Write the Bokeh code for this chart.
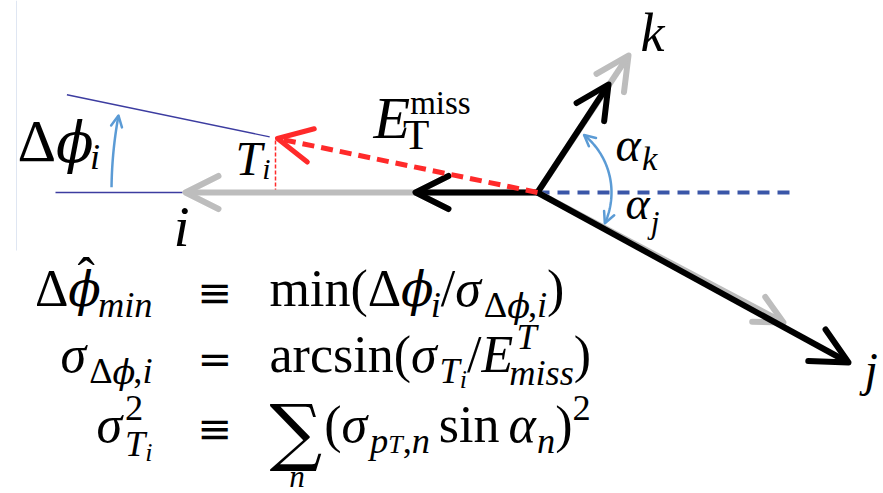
import numpy as np
from bokeh.plotting import figure
from bokeh.models import Range1d, Arrow, OpenHead, ColumnDataSource
from bokeh.embed import file_html
from bokeh.resources import INLINE

# ---------------------------------------------------------------------------
# Event geometry in the transverse plane, pixel units relative to the vertex
# (x to the right, y upwards).
# ---------------------------------------------------------------------------
jet_names = ["i", "j", "k"]
jet_meas_dx = [-122, 311, 71]      # measured jet momenta (black)
jet_meas_dy = [0, -170, 108]
jet_var_dx = [-352, 246, 91]       # fluctuated jet momenta (grey)
jet_var_dy = [0, -130, 137]
met_dx, met_dy = -260, 54          # missing transverse energy (red, dashed)

ref_line_len = 255                 # dashed reference axis to the right
met_ext = [1.03, 1.81]             # thin guide along the MET direction
jet_i_ext = [-355, -482]           # thin guide along jet i

dphi_arc = dict(r=426, a0=179.3, a1=169.6)    # delta-phi_i arrow
alpha_arc = dict(r=74, a0=51.0, a1=-24.5)     # alpha_k / alpha_j arrow

BLACK = "#000000"
GREY = "#bdbdbd"
RED = "#ff2a2a"
NAVY = "#3a56a8"
THIN = "#3c3ca0"
SKY = "#5b9bd5"
SERIF = "Liberation Serif"
ALT = "DejaVu Serif"
SYM = "DejaVu Sans"

p = figure(width=883, height=493, x_range=Range1d(-537, 346), y_range=Range1d(-301, 192),
           x_axis_type=None, y_axis_type=None, toolbar_location=None,
           output_backend="svg", min_border=0)
p.grid.visible = False
p.outline_line_color = None
p.background_fill_color = "white"

# faint page border on the left
p.line([-521, -521], [192, -58], line_color="#dfe6f2", line_width=1)


def add_arrow(x0, y0, x1, y1, color, width, head, dash="solid"):
    p.add_layout(Arrow(x_start=x0, y_start=y0, x_end=x1, y_end=y1,
                       line_color=color, line_width=width, line_dash=dash, line_cap="butt",
                       end=OpenHead(size=head, line_color=color, line_width=width,
                                    line_cap="round", line_join="round")))


# grey (fluctuated) jets underneath
for dx, dy, name in zip(jet_var_dx, jet_var_dy, jet_names):
    add_arrow(0, 0, dx, dy, GREY, 6, 28 if name == "j" else 33)

# black (measured) jets
for dx, dy, name in zip(jet_meas_dx, jet_meas_dy, jet_names):
    add_arrow(0, 0, dx, dy, BLACK, 6, 36 if name == "j" else 33)

# missing transverse energy
add_arrow(0, 0, met_dx, met_dy, RED, 5, 34, dash="12 7")

# projection T_i of the MET tip onto jet i
p.line([met_dx - 2, met_dx - 2], [met_dy - 2, 0], line_color=RED, line_width=1.5, line_dash="4 2")

# dashed reference axis
p.line([0, ref_line_len], [0, 0], line_color=NAVY, line_width=4, line_dash="12 8")

# thin guide lines that open the delta-phi angle
p.line([met_dx * met_ext[0], met_dx * met_ext[1]], [met_dy * met_ext[0], met_dy * met_ext[1]],
       line_color=THIN, line_width=1.3)
p.line(jet_i_ext, [0, 0], line_color=THIN, line_width=1.3)


def arc_points(r, a0, a1, n=80):
    th = np.radians(np.linspace(a0, a1, n))
    return r * np.cos(th), r * np.sin(th)


def head_on(xs, ys, k=-1):
    i0, i1 = (k - 3, k) if k < 0 else (k + 3, k)
    p.add_layout(Arrow(x_start=xs[i0], y_start=ys[i0], x_end=xs[i1], y_end=ys[i1],
                       line_color=SKY, line_width=2.5,
                       end=OpenHead(size=11, line_color=SKY, line_width=2.5,
                                    line_cap="round", line_join="round")))


ax, ay = arc_points(**dphi_arc)
p.line(ax, ay, line_color=SKY, line_width=2.5)
head_on(ax, ay, -1)

bx, by = arc_points(**alpha_arc)
p.line(bx, by, line_color=SKY, line_width=2.5)
head_on(bx, by, -1)
head_on(bx, by, 0)

# ---------------------------------------------------------------------------
# Text: simple run layout with approximate advance widths
# ---------------------------------------------------------------------------
ROMAN_W = {' ': .25, '(': .333, ')': .333, '/': .278, ',': .25, '2': .5, 'a': .444, 'c': .444,
           'i': .278, 'm': .778, 'n': .5, 'r': .333, 's': .389, 'T': .611, 'E': .611,
           'Δ': .64, '≡': .84, '=': .84, '∑': .74, 'ˆ': .333}
ITALIC_W = {'i': .278, 'm': .722, 'n': .5, 's': .389, 'p': .5, 'k': .444, 'j': .278, 'T': .556,
            'E': .611, 'ϕ': .62, 'σ': .55, 'α': .55, ',': .25, 'Δ': .64}
BASE_FIX = 0.37   # renderer places the alphabetic baseline this many em too low


def g(text, ital=False, sc=1.0, rise=0.0, kern=0.0, font=SERIF):
    return dict(text=text, ital=ital, sc=sc, rise=rise, kern=kern, font=font)


def phi(sc=1.0, rise=0.0):
    return g("ϕ", True, sc * .92, rise, font=ALT)


def run_width(text, ital, fs):
    tab = ITALIC_W if ital else ROMAN_W
    return sum(tab.get(c, .5) for c in text) * fs


def lay(seq, x, y, size, rows):
    for it in seq:
        if isinstance(it, list):
            ends = [lay(sub, x, y, size, rows) for sub in it]
            x = max(ends)
            continue
        x += it["kern"] * size
        fs = size * it["sc"]
        rows.append(dict(x=x, y=y + it["rise"] * size + BASE_FIX * fs, text=it["text"],
                         size=f"{fs:.1f}px", style="italic" if it["ital"] else "normal",
                         font=it["font"]))
        x += run_width(it["text"], it["ital"], fs)
    return x


def lay_right(seq, x_right, y, size, rows):
    w = lay(seq, 0, y, size, [])
    return lay(seq, x_right - w, y, size, rows)


rows = []

# diagram labels
lay([g("Δ"), phi(), g("i", True, .6, -.12)], -520, 29, 60, rows)
lay([g("T", True), g("i", True, .62, -.06)], -302, 16, 48, rows)
lay([g("i", True)], -364, -55, 58, rows)
lay([g("k", True)], 103, 140, 54, rows)
lay([g("j", True)], 327, -195, 48, rows)
lay([g("α", True), g("k", True, .72, -.17)], 78, 30, 48, rows)
lay([g("α", True), g("j", True, .68, -.3)], 88, -28, 46, rows)
lay([g("E", True), [[g("miss", False, .55, .42, .0)], [g("T", False, .72, -.17, -.12)]]],
    -164, 52, 60, rows)

# equations
EQ = 52
row_y = [-115, -181, -251]
lhs_right, rel_x, rhs_x = -385, -342, -268


def sub(t, ital=True):
    return g(t, ital, .7, -.22)


sub_phi = phi(.7, -.22)
lhs1 = [g("Δ"), phi(), sub("min")]
rhs1 = [g("min"), g("("), g("Δ"), phi(), sub("i"), g("/"), g("σ", True),
        sub("Δ", False), sub_phi, sub(",", False), sub("i"), g(")")]
lhs2 = [g("σ", True), sub("Δ", False), sub_phi, sub(",", False), sub("i")]
rhs2 = [g("arcsin"), g("("), g("σ", True), sub("T"), g("i", True, .5, -.3), g("/"),
        g("E", True), [[g("T", True, .7, .45, .06)], [g("miss", True, .7, -.24, -.08)]], g(")")]
lhs3 = [g("σ", True), [[g("2", False, .7, .42)], [g("T", True, .7, -.26), g("i", True, .5, -.36)]]]
rhs3 = [g("∑", False, 1.42, -.29, font=ALT), g("("), g("σ", True), sub("p"), g("T", True, .5, -.2),
        sub(",", False), sub("n"), g("sin", kern=.17), g("α", True, kern=.17), sub("n"),
        g(")"), g("2", False, .7, .42)]

rel_glyph = ["≡", "=", "≡"]
for lhs, rel, rhs, y in zip([lhs1, lhs2, lhs3], rel_glyph, [rhs1, rhs2, rhs3], row_y):
    lay_right(lhs, lhs_right, y, EQ, rows)
    lay([g(rel, sc=.8, font=SYM)], rel_x + 2, y, EQ, rows)
    lay(rhs, rhs_x, y, EQ, rows)

# hat over phi in the first row, summation index under the sigma
hat_x = lhs_right - run_width("min", True, EQ * .7) - run_width("ϕ", True, EQ * .92) + .18 * EQ
lay([g("ˆ")], hat_x, row_y[0] + .22 * EQ, EQ, rows)
lay([g("n", True, .6)], rhs_x + .38 * EQ, -296, EQ, rows)

src = ColumnDataSource({k: [r[k] for r in rows] for k in ["x", "y", "text", "size", "style", "font"]})
p.text(x="x", y="y", text="text", source=src, text_font=dict(field="font"),
       text_font_size=dict(field="size"), text_font_style=dict(field="style"),
       text_baseline="alphabetic", text_align="left", text_color="black")

open("out.html", "w").write(file_html(p, INLINE))
